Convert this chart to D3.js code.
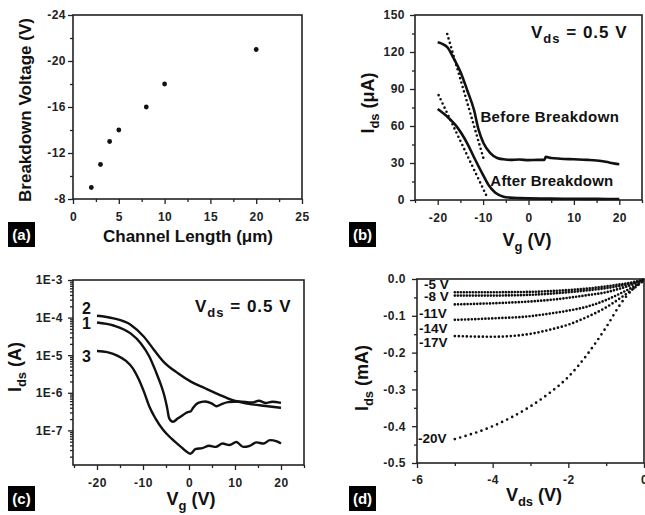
<!DOCTYPE html>
<html>
<head>
<meta charset="utf-8">
<script src="https://d3js.org/d3.v7.min.js"></script>
<style>
    body { margin: 0; background: #fff; }
    svg { font-family: Arial, "Liberation Sans", sans-serif; }
    .axis .domain { display: none; }
    .axis line { stroke: #222; stroke-width: 1.3; }
    .axis text { font-size: 12px; font-weight: bold; fill: #222; letter-spacing: 0.5px; }
    .frame { fill: none; stroke: #222; stroke-width: 1.6; }
    .title { font-size: 18px; font-weight: bold; fill: #111; }
    .note { font-size: 15px; font-weight: bold; fill: #111; }
    .curve { fill: none; stroke: #111; stroke-width: 2.6; stroke-linejoin: round; }
    .dots { fill: none; stroke: #111; stroke-width: 2.6; stroke-linecap: round; }
    .tag rect { fill: #000; }
    .tag text { fill: #fff; font-size: 15px; font-weight: bold; text-anchor: middle; }
</style>
</head>
<body>
<script>
    // (a) breakdown voltage vs channel length
    let channelLength = [2, 3, 4, 5, 8, 10, 20];
    let breakdownVoltage = [-9, -11, -13, -14, -16, -18, -21];

    // (b) Ids (uA) vs Vg, before / after breakdown
    let beforeVg = [-20, -17.9, -16.5, -15, -13.5, -12, -11, -9.9, -8.4, -6.9, -5.5, -4, -2, 0, 2, 3.5, 3.8, 5, 7, 10, 13, 15, 17, 19, 20];
    let beforeIds = [128, 124, 115, 104, 89, 73, 57, 46, 38, 34, 33, 32.5, 32.8, 32.3, 32.5, 32.5, 35, 34, 33.5, 33, 32.5, 32, 31, 29.5, 29];
    let afterVg = [-20, -17.9, -15.8, -13.5, -11.7, -10.2, -8.8, -7.3, -5.5, -4.1, -2, 0, 5, 10, 15, 20];
    let afterIds = [73.8, 67.6, 59.5, 46, 32.4, 21.6, 12.2, 5.9, 2.7, 1.9, 1.5, 1.3, 1.1, 1, 0.9, 0.8];
    let beforeFitVg = [-17.9, -9.7];
    let beforeFitIds = [134.6, 31];
    let afterFitVg = [-19.8, -9];
    let afterFitIds = [85, 1.4];

    // (c) log10 Ids (A) vs Vg for devices 1, 2, 3
    let c1Vg = [-20, -16.4, -12.7, -10.5, -8.6, -7.2, -6.1, -5.4, -4.8, -4.3, -3.5, -2.4, -1.3, -0.4, 0.4, 0.9, 2, 3.5, 4.9, 6, 7.1, 8.5, 10.8, 13.7, 15.2, 16.7, 18.1, 20];
    let c1LogI = [-4.13, -4.21, -4.42, -4.68, -5.04, -5.44, -5.79, -6.06, -6.37, -6.68, -6.77, -6.68, -6.59, -6.52, -6.49, -6.40, -6.27, -6.23, -6.28, -6.36, -6.30, -6.25, -6.23, -6.26, -6.21, -6.27, -6.24, -6.27];
    let c2Vg = [-20, -16.4, -12.7, -9.8, -7.6, -5.4, -2.4, 0.5, 3.5, 6.4, 9.3, 12.3, 16.7, 20];
    let c2LogI = [-3.95, -4.02, -4.19, -4.51, -4.86, -5.19, -5.48, -5.71, -5.88, -6.04, -6.19, -6.28, -6.35, -6.40];
    let c3Vg = [-20, -17.8, -15.6, -13.7, -12.2, -11, -9.8, -8.6, -7.3, -5.6, -3.8, -2, -0.5, 0.3, 1.4, 2.9, 4.4, 5.8, 7.3, 8.8, 10.3, 11.8, 13.2, 14.7, 16.2, 17.6, 19.1, 20];
    let c3LogI = [-4.89, -4.92, -5.01, -5.15, -5.35, -5.62, -5.97, -6.37, -6.68, -6.99, -7.22, -7.41, -7.57, -7.62, -7.50, -7.47, -7.41, -7.44, -7.35, -7.39, -7.31, -7.44, -7.41, -7.32, -7.35, -7.26, -7.29, -7.35];

    // (d) Ids (mA) vs Vds for several gate voltages
    let vds = [-5, -4, -3, -2.5, -2, -1.5, -1, -0.6, -0.3, 0];
    let gateLabels = ["-5 V", "-8 V", "-11V", "-14V", "-17V", "-20V"];
    let idsByGate = [
        [-0.036, -0.036, -0.035, -0.033, -0.030, -0.026, -0.020, -0.014, -0.009, -0.001],
        [-0.045, -0.045, -0.043, -0.040, -0.036, -0.031, -0.025, -0.018, -0.011, -0.002],
        [-0.069, -0.066, -0.061, -0.057, -0.051, -0.044, -0.036, -0.025, -0.015, -0.002],
        [-0.111, -0.107, -0.101, -0.094, -0.086, -0.075, -0.057, -0.038, -0.022, -0.003],
        [-0.155, -0.157, -0.149, -0.138, -0.124, -0.103, -0.077, -0.050, -0.028, -0.004],
        [-0.435, -0.400, -0.346, -0.310, -0.266, -0.205, -0.131, -0.065, -0.028, -0.004]
    ];

    let svg = d3.select('body').append('svg')
        .attr('width', 645)
        .attr('height', 515);

    function frame(box, x, y, t) {
        let g = svg.append('g');
        g.append('g').attr('class', 'axis').attr('transform', 'translate(0,' + box.y1 + ')')
            .call(d3.axisBottom(x).tickValues(t.xMajor).tickSize(5).tickPadding(t.xPad).tickFormat(t.xFmt));
        g.append('g').attr('class', 'axis').attr('transform', 'translate(0,' + box.y1 + ')')
            .call(d3.axisBottom(x).tickValues(t.xMinor).tickSize(3).tickFormat(''));
        g.append('g').attr('class', 'axis').attr('transform', 'translate(' + box.x0 + ',0)')
            .call(d3.axisLeft(y).tickValues(t.yMajor).tickSize(5).tickPadding(t.yPad).tickFormat(t.yFmt));
        g.append('g').attr('class', 'axis').attr('transform', 'translate(' + box.x0 + ',0)')
            .call(d3.axisLeft(y).tickValues(t.yMinor).tickSize(3).tickFormat(''));
        g.append('rect').attr('class', 'frame')
            .attr('x', box.x0).attr('y', box.y0)
            .attr('width', box.x1 - box.x0).attr('height', box.y1 - box.y0);
    }

    function tag(label, x, y) {
        let g = svg.append('g').attr('class', 'tag');
        g.append('rect').attr('x', x).attr('y', y).attr('width', 27).attr('height', 25);
        g.append('text').attr('x', x + 13.5).attr('y', y + 18).text(label);
    }

    // title with optional subscript: parts = [main, sub, rest]
    function title(parts, x, y, rotate, size) {
        let t = svg.append('text').attr('class', 'title')
            .attr('text-anchor', 'middle')
            .attr('transform', 'translate(' + x + ',' + y + ')' + (rotate ? ' rotate(-90)' : ''));
        if (size) t.style('font-size', size + 'px');
        t.append('tspan').text(parts[0]);
        if (parts[1]) {
            t.append('tspan').attr('dy', 5).style('font-size', '13px').text(parts[1]);
            t.append('tspan').attr('dy', -5).text(parts[2]);
        }
        return t;
    }

    function vdsNote(x, y) {
        let t = svg.append('text').attr('class', 'title')
            .attr('x', x).attr('y', y)
            .style('font-size', '17px').style('letter-spacing', '1px');
        t.append('tspan').text('V');
        t.append('tspan').attr('dy', 5).style('font-size', '13px').text('ds');
        t.append('tspan').attr('dy', -5).text(' = 0.5 V');
    }

    let num = d => String(d);

    // ---------- (a)
    let boxA = { x0: 73, x1: 302, y0: 15, y1: 199 };
    let xa = d3.scaleLinear().domain([0, 25]).range([boxA.x0, boxA.x1]);
    let ya = d3.scaleLinear().domain([-8, -24]).range([boxA.y1, boxA.y0]);
    frame(boxA, xa, ya, {
        xMajor: [0, 5, 10, 15, 20, 25], xMinor: [2.5, 7.5, 12.5, 17.5, 22.5], xPad: 8, xFmt: num,
        yMajor: [-8, -12, -16, -20, -24], yMinor: [-10, -14, -18, -22], yPad: 2, yFmt: num
    });
    svg.append('g').selectAll('circle')
        .data(d3.zip(channelLength, breakdownVoltage))
        .join('circle')
        .attr('cx', d => xa(d[0]))
        .attr('cy', d => ya(d[1]))
        .attr('r', 2.4)
        .attr('fill', '#111');
    title(['Channel Length (\u03bcm)'], 188, 242, false, 17);
    title(['Breakdown Voltage (V)'], 31, 110, true, 17);
    tag('(a)', 8, 222);

    // ---------- (b)
    let boxB = { x0: 415, x1: 642, y0: 15, y1: 200 };
    let xb = d3.scaleLinear().domain([-25, 25]).range([boxB.x0, boxB.x1]);
    let yb = d3.scaleLinear().domain([0, 150]).range([boxB.y1, boxB.y0]);
    frame(boxB, xb, yb, {
        xMajor: [-20, -10, 0, 10, 20], xMinor: [-25, -15, -5, 5, 15, 25], xPad: 8, xFmt: num,
        yMajor: [0, 30, 60, 90, 120, 150], yMinor: [15, 45, 75, 105, 135], yPad: 5, yFmt: num
    });
    let lineB = d3.line().x(d => xb(d[0])).y(d => yb(d[1])).curve(d3.curveMonotoneX);
    svg.append('path').attr('class', 'curve').attr('d', lineB(d3.zip(beforeVg, beforeIds)));
    svg.append('path').attr('class', 'curve').attr('d', lineB(d3.zip(afterVg, afterIds)));
    svg.append('path').attr('class', 'dots').attr('stroke-dasharray', '0 4.6')
        .attr('d', lineB(d3.zip(beforeFitVg, beforeFitIds)));
    svg.append('path').attr('class', 'dots').attr('stroke-dasharray', '0 4.6')
        .attr('d', lineB(d3.zip(afterFitVg, afterFitIds)));
    svg.append('text').attr('class', 'note').attr('x', xb(-10.6)).attr('y', yb(63))
        .style('letter-spacing', '0.4px').text('Before Breakdown');
    svg.append('text').attr('class', 'note').attr('x', xb(-8.4)).attr('y', yb(11.5))
        .style('letter-spacing', '0.2px').text('After Breakdown');
    vdsNote(531, 38);
    title(['V', 'g', ' (V)'], 527, 246);
    title(['I', 'ds', ' (\u03bcA)'], 374, 103, true);
    tag('(b)', 349, 222);

    // ---------- (c)
    let boxC = { x0: 73, x1: 304, y0: 280, y1: 465 };
    let xc = d3.scaleLinear().domain([-25, 25]).range([boxC.x0 + 1, boxC.x1]);
    let yc = d3.scaleLog().domain([1.2e-8, 1e-3]).range([boxC.y1, boxC.y0]);
    let decades = yc.ticks().filter(d => Math.abs(Math.log10(d) - Math.round(Math.log10(d))) < 1e-6);
    let minors = yc.ticks().filter(d => decades.indexOf(d) < 0);
    frame(boxC, xc, yc, {
        xMajor: [-20, -10, 0, 10, 20], xMinor: [-25, -15, -5, 5, 15, 25], xPad: 8, xFmt: num,
        yMajor: decades, yMinor: minors, yPad: 5, yFmt: d => '1E' + Math.round(Math.log10(d))
    });
    let lineC = d3.line().x(d => xc(d[0])).y(d => yc(Math.pow(10, d[1]))).curve(d3.curveMonotoneX);
    [[c1Vg, c1LogI], [c2Vg, c2LogI], [c3Vg, c3LogI]].forEach(s => {
        svg.append('path').attr('class', 'curve').style('stroke-width', 2.4)
            .attr('d', lineC(d3.zip(s[0], s[1])));
    });
    [['2', 314], ['1', 329], ['3', 362]].forEach(l => {
        svg.append('text').attr('class', 'title').style('font-size', '16px')
            .attr('x', 82).attr('y', l[1]).text(l[0]);
    });
    vdsNote(195, 312);
    title(['V', 'g', ' (V)'], 191, 505);
    title(['I', 'ds', ' (A)'], 21, 367, true);
    tag('(c)', 8, 486);

    // ---------- (d)
    let boxD = { x0: 417, x1: 644, y0: 279, y1: 463 };
    let xd = d3.scaleLinear().domain([-6, 0]).range([boxD.x0, boxD.x1]);
    let yd = d3.scaleLinear().domain([-0.5, 0]).range([boxD.y1, boxD.y0]);
    frame(boxD, xd, yd, {
        xMajor: [-6, -4, -2, 0], xMinor: [-5, -3, -1], xPad: 7, xFmt: num,
        yMajor: [0, -0.1, -0.2, -0.3, -0.4, -0.5], yMinor: [-0.05, -0.15, -0.25, -0.35, -0.45], yPad: 6,
        yFmt: d => d.toFixed(1)
    });
    let lineD = d3.line().x(d => xd(d[0])).y(d => yd(d[1])).curve(d3.curveMonotoneX);
    let dashD = ['0 3', '0 3', '0 3.2', '0 3.4', '0 4', '0 5.6'];
    idsByGate.forEach((ids, i) => {
        svg.append('path').attr('class', 'dots').style('stroke-width', 2.7)
            .attr('stroke-dasharray', dashD[i])
            .attr('d', lineD(d3.zip(vds, ids)));
    });
    let labelY = [289, 301, 318, 333, 347, 443];
    let labelX = [424, 424, 419, 419, 419, 418];
    gateLabels.forEach((l, i) => {
        svg.append('text').attr('class', 'note').style('font-size', '13.5px')
            .attr('x', labelX[i]).attr('y', labelY[i]).text(l);
    });
    title(['V', 'ds', ' (V)'], 534, 501);
    title(['I', 'ds', ' (mA)'], 368, 378, true);
    tag('(d)', 349, 486);
</script>
</body>
</html>
